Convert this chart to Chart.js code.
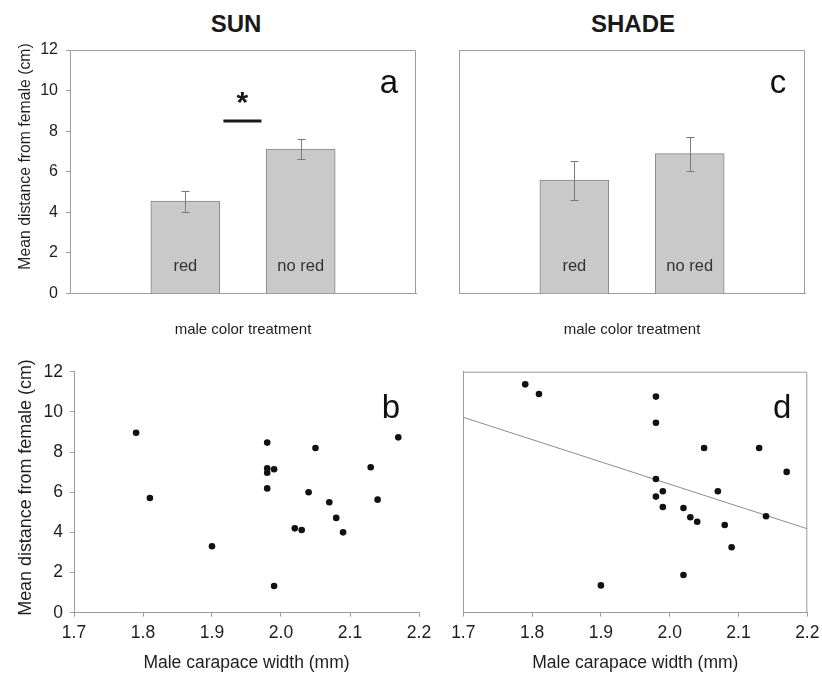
<!DOCTYPE html>
<html>
<head>
<meta charset="utf-8">
<script src="https://cdn.jsdelivr.net/npm/chart.js@4.4.1/dist/chart.umd.min.js"></script>
<style>
  html, body { margin: 0; padding: 0; background: #fff; }
  body { width: 822px; height: 677px; position: relative; overflow: hidden; }
  .hd { position: absolute; top: 10px; line-height: 24px; font: bold 24px "Liberation Sans", Arial, sans-serif;
        color: #1a1a1a; transform: translateX(-50%); white-space: nowrap; }
  .pane { position: absolute; }
  .pane canvas { display: block; }
</style>
</head>
<body>
<div class="hd" style="left:236px">SUN</div>
<div class="hd" style="left:633px">SHADE</div>

<div class="pane" style="left:0;top:0;width:420px;height:345px"><canvas id="cA" width="420" height="345"></canvas></div>
<div class="pane" style="left:422px;top:0;width:400px;height:345px"><canvas id="cC" width="400" height="345"></canvas></div>
<div class="pane" style="left:422px;top:345px;width:400px;height:332px"><canvas id="cD" width="400" height="332"></canvas></div>
<div class="pane" style="left:0;top:345px;width:440px;height:332px"><canvas id="cB" width="440" height="332"></canvas></div>

<script>
// ---- data ----
const categories = ['red', 'no red'];
const sunMeans = [4.55, 7.12];
const sunSE = [0.52, 0.47];
const shadeMeans = [5.59, 6.89];
const shadeSE = [0.96, 0.83];

const yTicks = [0, 2, 4, 6, 8, 10, 12];
const widthTicks = [1.7, 1.8, 1.9, 2.0, 2.1, 2.2];

// male carapace width (mm) vs mean distance from female (cm), sun
const sunWidth = [1.79, 1.81, 1.90, 1.98, 1.98, 1.98, 1.99, 1.98, 1.99, 2.05, 2.04, 2.02, 2.03, 2.07, 2.08, 2.09, 2.13, 2.14, 2.17];
const sunDist  = [8.96, 5.71, 3.31, 8.47, 7.19, 6.97, 7.14, 6.19, 1.33, 8.20, 6.00, 4.20, 4.12, 5.50, 4.72, 4.00, 7.24, 5.63, 8.73];

// same, shade
const shadeWidth = [1.79, 1.81, 1.98, 1.98, 2.05, 2.13, 2.17, 1.98, 1.99, 2.07, 1.98, 1.99, 2.02, 2.03, 2.04, 2.08, 2.14, 2.09, 2.02, 1.90];
const shadeDist  = [11.37, 10.89, 10.76, 9.46, 8.20, 8.20, 7.01, 6.66, 6.05, 6.05, 5.78, 5.26, 5.21, 4.75, 4.53, 4.37, 4.80, 3.26, 1.88, 1.36];

// fitted regression line for the shade panel (end points)
const shadeFitX = [1.7, 2.2];
const shadeFitY = [9.73, 4.18];

// significance bar between the two sun treatments
const sigFrom = 1.33, sigTo = 1.66, sigLevel = 8.5;

// ---- styling ----
const FONT = '"Liberation Sans", Arial, sans-serif';
const INK = '#1e1e1e';
const AXIS = '#9c9c9c';
Chart.defaults.font.family = FONT;
Chart.defaults.color = INK;
Chart.defaults.animation = false;

const fixW = (w) => (s) => { s.width = w; s.paddingTop = 0; s.paddingBottom = 0; };
const fixH = (h) => (s) => { s.height = h; s.paddingLeft = 0; s.paddingRight = 0; };
const setTicks = (vals) => (s) => { s.ticks = vals.map(v => ({ value: v })); };

// top and right edge of the plot box
const framePlugin = {
  id: 'frame',
  afterDraw(chart, args, o) {
    if (!o.draw) return;
    const { ctx, chartArea: a } = chart;
    ctx.save();
    ctx.strokeStyle = o.color || AXIS;
    ctx.lineWidth = 1;
    ctx.beginPath();
    ctx.moveTo(a.left, a.top + 0.5);
    ctx.lineTo(a.right - 0.5, a.top + 0.5);
    ctx.lineTo(a.right - 0.5, a.bottom);
    ctx.stroke();
    ctx.restore();
  }
};

// panel letter in the upper right corner
const letterPlugin = {
  id: 'letter',
  afterDraw(chart, args, o) {
    if (!o.text) return;
    const { ctx, chartArea: a } = chart;
    ctx.save();
    ctx.font = `33px ${FONT}`;
    ctx.fillStyle = '#111';
    ctx.textAlign = 'center';
    ctx.textBaseline = 'alphabetic';
    ctx.fillText(o.text, a.right - o.dx, a.top + o.dy);
    ctx.restore();
  }
};

// rotated y-axis caption
const captionPlugin = {
  id: 'caption',
  afterDraw(chart, args, o) {
    if (!o.text) return;
    const { ctx } = chart;
    ctx.save();
    ctx.translate(o.x, o.y);
    ctx.rotate(-Math.PI / 2);
    ctx.font = `${o.size}px ${FONT}`;
    ctx.fillStyle = INK;
    ctx.textAlign = 'center';
    ctx.textBaseline = 'middle';
    ctx.fillText(o.text, 0, 0);
    ctx.restore();
  }
};

// standard-error whiskers and treatment names on the bars
const barExtras = {
  id: 'barExtras',
  afterDatasetsDraw(chart, args, o) {
    const { ctx } = chart;
    const y = chart.scales.y;
    const meta = chart.getDatasetMeta(0);
    const base = y.getPixelForValue(0);
    ctx.save();
    meta.data.forEach((bar, i) => {
      const m = o.means[i], se = o.se[i];
      const yt = Math.round(y.getPixelForValue(m + se)) + 0.5;
      const yb = Math.round(y.getPixelForValue(m - se)) + 0.5;
      const x = Math.round(bar.x) + 0.5;
      ctx.strokeStyle = '#7a7a7a';
      ctx.lineWidth = 1;
      ctx.beginPath();
      ctx.moveTo(x, yt); ctx.lineTo(x, yb);
      ctx.moveTo(x - 4, yt); ctx.lineTo(x + 4, yt);
      ctx.moveTo(x - 4, yb); ctx.lineTo(x + 4, yb);
      ctx.stroke();
      ctx.font = `16.5px ${FONT}`;
      ctx.fillStyle = '#333';
      ctx.textAlign = 'center';
      ctx.textBaseline = 'alphabetic';
      ctx.fillText(o.labels[i], bar.x, base - 22.5);
    });
    if (o.sig) {
      const xs = chart.scales.x;
      const x0 = xs.getPixelForValue(o.sig.from), x1 = xs.getPixelForValue(o.sig.to);
      const ys = y.getPixelForValue(o.sig.level);
      ctx.strokeStyle = '#1a1a1a';
      ctx.lineWidth = 3;
      ctx.beginPath();
      ctx.moveTo(x0, ys); ctx.lineTo(x1, ys);
      ctx.stroke();
      ctx.font = `bold 30px ${FONT}`;
      ctx.fillStyle = '#1a1a1a';
      ctx.textAlign = 'center';
      ctx.textBaseline = 'alphabetic';
      ctx.fillText('*', (x0 + x1) / 2, ys - 9);
    }
    ctx.restore();
  }
};

function barChart(id, means, se, geo, extra) {
  const data = categories.map((c, i) => ({ x: i + 1, y: means[i] }));
  return new Chart(document.getElementById(id), {
    type: 'bar',
    data: { datasets: [{ data, backgroundColor: '#c9c9c9', borderColor: '#858585', borderWidth: 1, barThickness: 69 }] },
    plugins: [framePlugin, letterPlugin, captionPlugin, barExtras],
    options: {
      responsive: false,
      layout: { padding: { top: geo.top, right: geo.right, left: 0, bottom: 0 } },
      scales: {
        x: {
          type: 'linear', min: 0, max: 3, offset: false,
          grid: { display: false },
          border: { display: true, color: AXIS, width: 1 },
          ticks: { display: false },
          title: { display: true, text: 'male color treatment', font: { size: 15 }, padding: { top: 0, bottom: 6 }, color: INK },
          afterFit: fixH(geo.xh)
        },
        y: {
          min: 0, max: 12,
          afterBuildTicks: setTicks(yTicks),
          grid: { display: geo.yLabels, drawOnChartArea: false, drawTicks: true, tickLength: 4, color: AXIS },
          border: { display: true, color: AXIS, width: 1 },
          ticks: { display: geo.yLabels, font: { size: 16 }, padding: 8, color: INK },
          afterFit: fixW(geo.yw)
        }
      },
      plugins: {
        legend: { display: false },
        tooltip: { enabled: false },
        frame: { draw: true },
        letter: { text: geo.letter, dx: 27, dy: 43 },
        caption: geo.caption || {},
        barExtras: Object.assign({ means, se, labels: categories }, extra || {})
      }
    }
  });
}

function scatterChart(id, xs, ys, geo, fit) {
  const datasets = [{
    type: 'scatter',
    data: xs.map((x, i) => ({ x, y: ys[i] })),
    pointRadius: 3.3, pointBackgroundColor: '#111', pointBorderWidth: 0, showLine: false
  }];
  if (fit) {
    datasets.push({
      type: 'line',
      data: fit.x.map((x, i) => ({ x, y: fit.y[i] })),
      borderColor: '#8c8c8c', borderWidth: 1, pointRadius: 0, fill: false, tension: 0
    });
  }
  return new Chart(document.getElementById(id), {
    type: 'scatter',
    data: { datasets },
    plugins: [framePlugin, letterPlugin, captionPlugin],
    options: {
      responsive: false,
      layout: { padding: { top: geo.top, right: geo.right, left: 0, bottom: 0 } },
      scales: {
        x: {
          type: 'linear', min: 1.7, max: 2.2,
          afterBuildTicks: setTicks(widthTicks),
          grid: { display: true, drawOnChartArea: false, drawTicks: true, tickLength: 4, color: AXIS },
          border: { display: true, color: AXIS, width: 1 },
          ticks: { font: { size: 17.5 }, padding: 6, color: INK, maxRotation: 0, autoSkip: false,
                   callback: (v) => Number(v).toFixed(1) },
          title: { display: true, text: 'Male carapace width (mm)', font: { size: 17.5 }, padding: { top: 0, bottom: 3.5 }, color: INK },
          afterFit: fixH(geo.xh)
        },
        y: {
          type: 'linear', min: 0, max: 12,
          afterBuildTicks: setTicks(yTicks),
          grid: { display: geo.yLabels, drawOnChartArea: false, drawTicks: true, tickLength: 4, color: AXIS },
          border: { display: true, color: AXIS, width: 1 },
          ticks: { display: geo.yLabels, font: { size: 17.5 }, padding: 7, color: INK },
          afterFit: fixW(geo.yw)
        }
      },
      plugins: {
        legend: { display: false },
        tooltip: { enabled: false },
        frame: { draw: geo.frame },
        letter: { text: geo.letter, dx: geo.ldx, dy: 46.5 },
        caption: geo.caption || {}
      }
    }
  });
}

barChart('cA', sunMeans, sunSE,
  { top: 50, right: 4, xh: 51.5, yw: 70, yLabels: true, letter: 'a',
    caption: { text: 'Mean distance from female (cm)', x: 25.5, y: 156.5, size: 15.8 } },
  { sig: { from: sigFrom, to: sigTo, level: sigLevel } });

barChart('cC', shadeMeans, shadeSE,
  { top: 50, right: 17, xh: 51.5, yw: 37, yLabels: false, letter: 'c' });

scatterChart('cB', sunWidth, sunDist,
  { top: 26.7, right: 21, xh: 64.3, yw: 74, yLabels: true, frame: false, letter: 'b', ldx: 28,
    caption: { text: 'Mean distance from female (cm)', x: 26, y: 142.5, size: 17.9 } });

scatterChart('cD', shadeWidth, shadeDist,
  { top: 26.7, right: 14.7, xh: 64.3, yw: 41.3, yLabels: false, frame: true, letter: 'd', ldx: 25 },
  { x: shadeFitX, y: shadeFitY });
</script>
</body>
</html>
